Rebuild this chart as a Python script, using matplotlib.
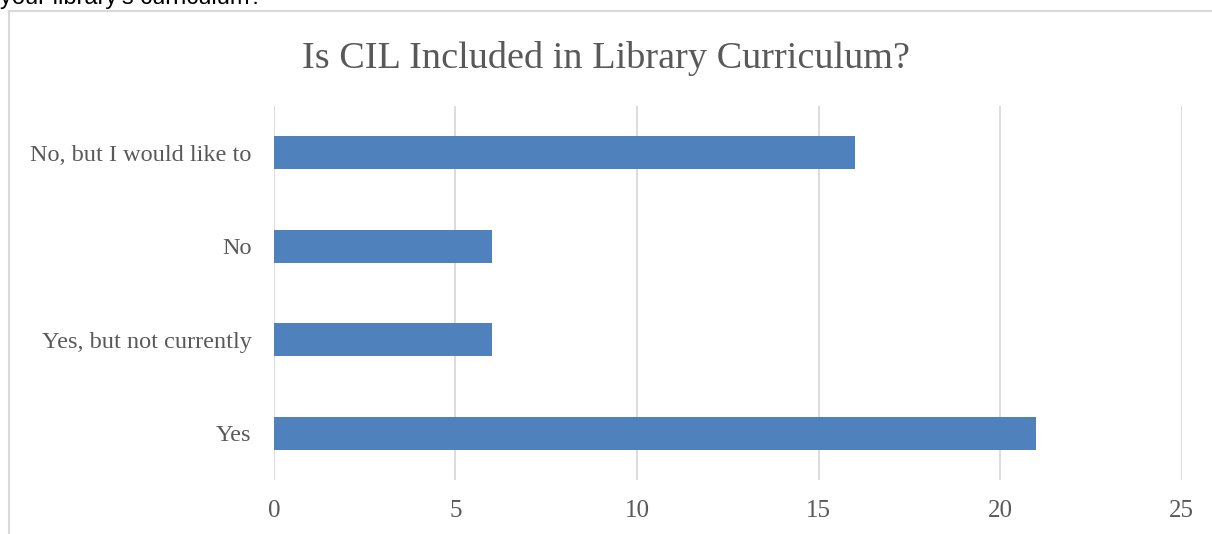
import matplotlib.pyplot as plt
from matplotlib.lines import Line2D

# Data
categories = ['Yes', 'Yes, but not currently', 'No', 'No, but I would like to']
counts = [21, 6, 6, 16]
xticks = [0, 5, 10, 15, 20, 25]

fig = plt.figure(figsize=(12.12, 5.34), dpi=100)
ax = fig.add_axes([0.226, 0.101, 0.749, 0.7005])

ax.barh(range(len(categories)), counts, height=0.35, color='#4F81BD', zorder=3)

ax.set_xlim(0, 25)
ax.set_ylim(-0.5, len(categories) - 0.5)
ax.set_xticks(xticks)
ax.set_yticks(range(len(categories)))
ax.set_yticklabels(categories)
ax.grid(axis='x', color='#D9D9D9', linewidth=1.3, zorder=0)
for s in ax.spines.values():
    s.set_visible(False)
ax.tick_params(length=0, labelcolor='#595959')
ax.tick_params(axis='x', pad=14, labelsize=18)
ax.tick_params(axis='y', pad=16, labelsize=17.5)
for lab in ax.get_xticklabels() + ax.get_yticklabels():
    lab.set_fontfamily('Liberation Serif')

fig.text(0.5, 1 - 58 / 534, 'Is CIL Included in Library Curriculum?',
         ha='center', va='center', fontsize=27.5, color='#595959',
         family='Liberation Serif')

# chart frame
fig.add_artist(Line2D([9 / 1212, 9 / 1212], [0, 1 - 11 / 534],
                      transform=fig.transFigure, color='#D9D9D9', lw=1.5))
fig.add_artist(Line2D([9 / 1212, 1], [1 - 11 / 534, 1 - 11 / 534],
                      transform=fig.transFigure, color='#D9D9D9', lw=1.5))

# cut-off text from the document above
fig.text(0.0, 1 - 4 / 534, "your library's curriculum?", ha='left',
         va='baseline', fontsize=17, color='black', family='Liberation Sans')

fig.savefig('out.png', dpi=100)
